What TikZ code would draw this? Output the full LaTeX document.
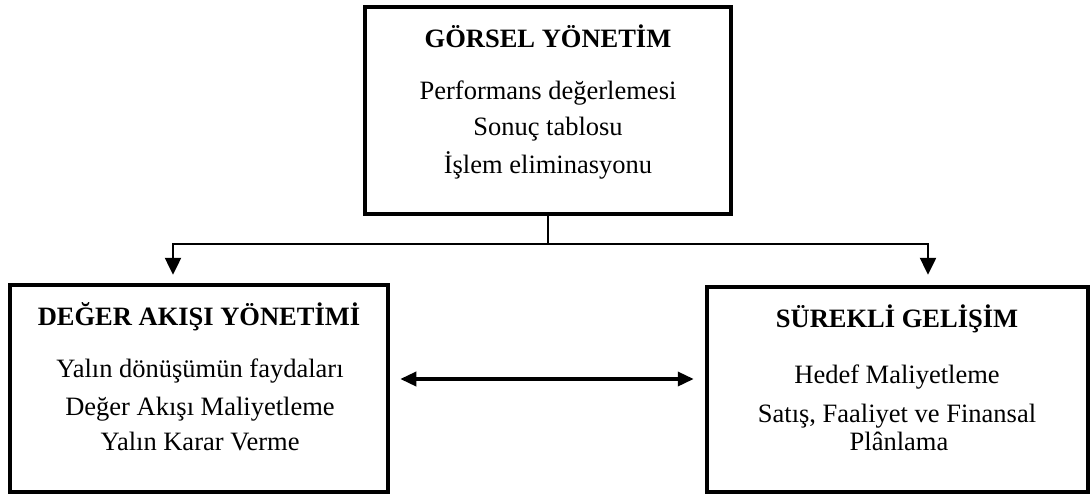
\documentclass[tikz,border=0pt]{standalone}
\usepackage{fontspec}
\setmainfont{Liberation Serif}
\usetikzlibrary{arrows.meta}
\begin{document}
\begin{tikzpicture}[x=1pt,y=-1pt,
  panel/.style={draw=black,line width=4.5pt,inner sep=0pt},
  head/.style={font=\fontsize{26.5}{30}\selectfont\bfseries,anchor=base,inner sep=0pt},
  item/.style={font=\fontsize{26.5}{30}\selectfont,anchor=base,inner sep=0pt},
  link/.style={line width=2.5pt},
  tip/.style={-{Triangle[length=17pt,width=16pt]}},
  bitip/.style={line width=3.5pt,{Triangle[length=16pt,width=14pt]}-{Triangle[length=16pt,width=14pt]}}]
\useasboundingbox (0,0) rectangle (1091,495);

% three panels
\node[panel,minimum width=366pt,minimum height=207pt] (gy) at (548,110.5) {};
\node[panel,minimum width=378pt,minimum height=207pt] (da) at (199,388.5) {};
\node[panel,minimum width=381pt,minimum height=205pt] (sg) at (897.5,389.5) {};

% top panel texts
\node[head] (gyt) at (548,48) {GÖRSEL YÖNETİM};
\node[item] (gy1) at (548,99) {Performans değerlemesi};
\node[item] (gy2) at (548,135) {Sonuç tablosu};
\node[item] (gy3) at (548,173) {İşlem eliminasyonu};

% left panel texts
\node[head] (dat) at (199,325) {DEĞER AKIŞI YÖNETİMİ};
\node[item] (da1) at (200,377) {Yalın dönüşümün faydaları};
\node[item] (da2) at (200,415) {Değer Akışı Maliyetleme};
\node[item] (da3) at (200,450) {Yalın Karar Verme};

% right panel texts
\node[head] (sgt) at (897,327) {SÜREKLİ GELİŞİM};
\node[item] (sg1) at (897,383) {Hedef Maliyetleme};
\node[item] (sg2) at (897,422) {Satış, Faaliyet ve Finansal};
\node[item] (sg3) at (899,450) {Plânlama};

% branching connector
\coordinate (fork) at (gy.south |- 0,244);
\coordinate (fl) at (173,244);
\coordinate (fr) at (928,244);
\draw[link] (gy.south) -- (fork);
\draw[link,line cap=rect] (fl) -- (fr);
\draw[link,tip] (fl) -- ([yshift=8pt]fl |- da.north);
\draw[link,tip] (fr) -- ([yshift=10pt]fr |- sg.north);

% two-way link between lower panels
\draw[bitip] ([xshift=10pt]da.east |- 0,379) -- ([xshift=-11pt]sg.west |- 0,379);
\end{tikzpicture}
\end{document}
